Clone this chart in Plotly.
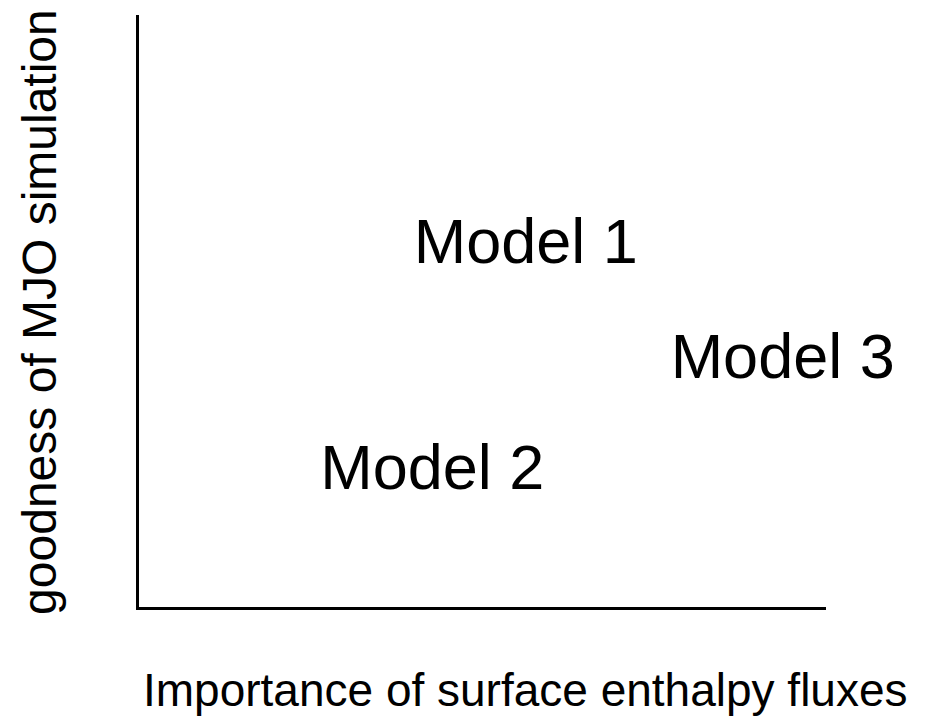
import plotly.graph_objects as go

# Data
model_names = ["Model 1", "Model 2", "Model 3"]
enthalpy_importance = [5.63, 4.27, 9.37]   # x position (0-10 scale)
mjo_goodness = [6.07, 2.26, 4.14]          # y position (0-10 scale)

x_title = "Importance of surface enthalpy fluxes"
y_title = "goodness of MJO simulation"

FONT = "Liberation Sans, Arial, sans-serif"

fig = go.Figure()
fig.add_trace(go.Scatter(
    x=enthalpy_importance, y=mjo_goodness, text=model_names,
    mode="text", textposition="middle center", cliponaxis=False,
    textfont=dict(family=FONT, size=63, color="black"),
    hoverinfo="skip", showlegend=False,
))

fig.update_layout(
    width=926, height=723,
    margin=dict(l=131, r=108, t=7, b=124),
    paper_bgcolor="white", plot_bgcolor="white",
    font=dict(family=FONT, color="black"),
    xaxis=dict(range=[0, 10], showline=True, linecolor="black", linewidth=2.5,
               showgrid=False, zeroline=False, showticklabels=False, ticks=""),
    yaxis=dict(range=[0, 10], showline=True, linecolor="black", linewidth=2.5,
               showgrid=False, zeroline=False, showticklabels=False, ticks=""),
    annotations=[
        dict(text=x_title, xref="paper", yref="paper", x=0.563, y=-0.140,
             xanchor="center", yanchor="middle", showarrow=False,
             font=dict(family=FONT, size=46, color="black")),
        dict(text=y_title, xref="paper", yref="paper", x=-0.146, y=0.498,
             xanchor="center", yanchor="middle", showarrow=False, textangle=-90,
             font=dict(family=FONT, size=48, color="black")),
    ],
)

fig.write_html("out.html")
